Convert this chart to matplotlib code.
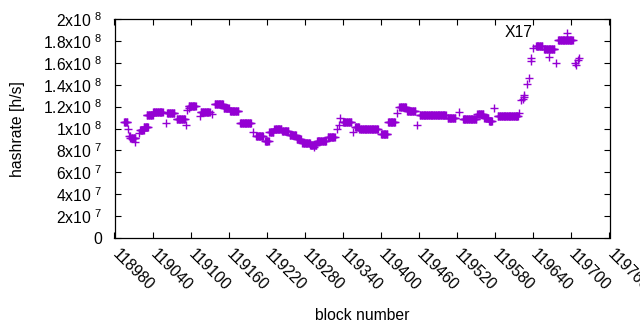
import numpy as np
import matplotlib
matplotlib.use("Agg")
import matplotlib.pyplot as plt

plt.rcParams["font.family"] = ["Liberation Sans", "DejaVu Sans"]
plt.rcParams["mathtext.fontset"] = "custom"
plt.rcParams["mathtext.rm"] = "Liberation Sans"
plt.rcParams["mathtext.it"] = "Liberation Sans:italic"
plt.rcParams["mathtext.bf"] = "Liberation Sans:bold"

# runs of blocks with (roughly) the same estimated hashrate
run_start = [118995, 119001, 119003, 119005, 119013, 119019, 119020, 119026,
             119031, 119041, 119061, 119063, 119078, 119092, 119094, 119098,
             119097, 119114, 119116, 119134, 119138, 119152, 119162, 119178,
             119198, 119203, 119217, 119224, 119232, 119244, 119256, 119267,
             119276, 119288, 119294, 119299, 119316, 119330, 119333, 119336,
             119340, 119356, 119359, 119366, 119400, 119411, 119425, 119429,
             119441, 119457, 119461, 119505, 119523, 119529, 119552, 119563,
             119570, 119578, 119584, 119618, 119621, 119624, 119625, 119626,
             119630, 119633, 119636, 119637, 119639, 119644, 119657, 119665,
             119676, 119679, 119693, 119706, 119707, 119711, 119712]
run_end = [119000, 119001, 119004, 119013, 119013, 119019, 119026, 119033,
           119040, 119056, 119061, 119074, 119091, 119092, 119094, 119098,
           119108, 119114, 119130, 119134, 119151, 119160, 119175, 119195,
           119198, 119214, 119223, 119230, 119243, 119254, 119266, 119274,
           119288, 119298, 119294, 119313, 119327, 119330, 119333, 119336,
           119353, 119356, 119365, 119395, 119410, 119422, 119425, 119439,
           119454, 119457, 119502, 119517, 119523, 119550, 119561, 119569,
           119575, 119578, 119616, 119618, 119621, 119624, 119625, 119626,
           119630, 119633, 119636, 119637, 119639, 119654, 119673, 119665,
           119676, 119702, 119693, 119706, 119707, 119711, 119712]
run_value = [1.06, 1.00, 0.93, 0.913, 0.88, 0.96, 0.99, 1.01,
             1.12, 1.15, 1.05, 1.14, 1.09, 1.03, 1.17, 1.19,
             1.21, 1.11, 1.15, 1.13, 1.22, 1.19, 1.16, 1.05,
             0.97, 0.93, 0.885, 0.97, 1.00, 0.975, 0.94, 0.905,
             0.87, 0.85, 0.834, 0.885, 0.92, 1.00, 1.03, 1.095,
             1.06, 0.97, 1.01, 1.00, 0.95, 1.06, 1.14, 1.20,
             1.16, 1.03, 1.12, 1.095, 1.155, 1.09, 1.13, 1.10,
             1.07, 1.19, 1.115, 1.14, 1.26, 1.27, 1.29, 1.31,
             1.41, 1.46, 1.62, 1.64, 1.733, 1.75, 1.73, 1.655,
             1.595, 1.81, 1.875, 1.60, 1.58, 1.626, 1.64]

xticks = list(range(118980, 119761, 60))
ytick_vals = [0, 2e7, 4e7, 6e7, 8e7, 1e8, 1.2e8, 1.4e8, 1.6e8, 1.8e8, 2e8]
ytick_mant = ["0", "2", "4", "6", "8", "1", "1.2", "1.4", "1.6", "1.8", "2"]
ytick_exp = ["", "7", "7", "7", "7", "8", "8", "8", "8", "8", "8"]

blocks = np.concatenate([np.arange(s, e + 1) for s, e in zip(run_start, run_end)])
hashrate = np.concatenate([np.full(e - s + 1, v * 1e8)
                           for s, e, v in zip(run_start, run_end, run_value)])

fs = 11.3

fig = plt.figure(figsize=(6.4, 3.3), dpi=100)
ax = fig.add_axes([114.5 / 640, 1 - 238 / 330, 495 / 640, 219 / 330])

ax.plot(blocks, hashrate, "+", color="#9400d3", ms=5.5, mew=1.0, linestyle="none")

ax.set_xlim(118980, 119760)
ax.set_ylim(0, 2e8)
ax.set_xticks(xticks)
ax.set_xticklabels([str(t) for t in xticks], rotation=-45, ha="left", va="center",
                   rotation_mode="anchor")
ytl = [m if e == "" else m + "x10 $^{\\mathrm{" + e + "}}$" for m, e in zip(ytick_mant, ytick_exp)]
ax.set_yticks(ytick_vals)
ax.set_yticklabels(ytl)
ax.tick_params(direction="in", length=4, width=0.8, top=True, right=True,
               labelsize=fs, colors="black")
ax.tick_params(axis="x", pad=10)
ax.tick_params(axis="y", pad=9)
for sp in ax.spines.values():
    sp.set_linewidth(0.9)

ax.text(119617, 1.88e8, "X17", ha="center", va="center", fontsize=fs)

fig.text(362 / 640, 1 - 315 / 330, "block number", ha="center", va="center", fontsize=fs)
fig.text(18 / 640, 1 - 129 / 330, "hashrate [h/s]", ha="center", va="center",
         rotation=90, fontsize=fs)

fig.savefig("out.png", dpi=100)
